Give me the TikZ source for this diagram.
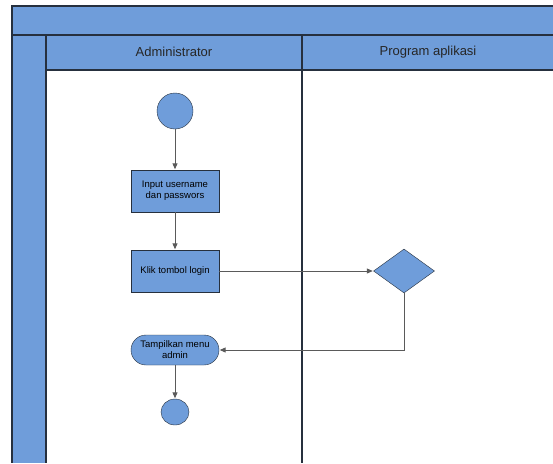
\documentclass[tikz,border=0pt]{standalone}
\usepackage{fontspec}
\setmainfont{Liberation Sans}
\usetikzlibrary{shapes.geometric, arrows.meta}

\definecolor{lanefill}{RGB}{111,157,218}
\definecolor{laneline}{RGB}{38,48,62}
\definecolor{flowline}{RGB}{90,90,90}

\tikzset{
    lanetitle/.style={font=\fontsize{13}{15}\selectfont, text=black!85},
    actbox/.style={draw=laneline, fill=lanefill, minimum width=88pt, minimum height=42pt,
        inner sep=1pt, align=center, font=\fontsize{9.5}{11}\selectfont},
    actround/.style={actbox, rounded corners=15pt, minimum height=30pt},
    startdot/.style={circle, draw=laneline, fill=lanefill, minimum size=36pt, inner sep=0pt},
    enddot/.style={ellipse, draw=laneline, fill=lanefill, minimum width=28pt, minimum height=26pt, inner sep=0pt},
    choice/.style={diamond, draw=laneline, fill=lanefill, minimum width=61pt, minimum height=44pt,
        aspect=1.4, inner sep=0pt},
    flow/.style={draw=flowline, line width=1pt, -{Triangle[length=6pt, width=5pt]}, shorten >=0.5pt}
}

\begin{document}
\begin{tikzpicture}[x=1pt, y=-1pt]
    \useasboundingbox
        [fill=white] (0,0) rectangle (553,463);
    % swimlane frame
    \fill
        [lanefill] (12,6) rectangle (553,70);
    \fill
        [lanefill] (12,35) rectangle (46,463);
    \fill
        [white] (46,70) rectangle (553,463);
    \draw
        [laneline, line width=1.3pt] (553,6)--(12,6)--(12,463);
    \draw
        [laneline, line width=1.3pt] (12,35)--(553,35);
    \draw
        [laneline, line width=1.3pt] (46,70)--(553,70);
    \draw
        [laneline, line width=1.3pt] (46,35)--(46,463);
    \draw
        [laneline, line width=1.3pt] (302,35)--(302,463);
    \node[lanetitle] (admin) at (174,52) {Administrator};
    \node[lanetitle] (program) at (428,52) {Program aplikasi};

    % activities
    \node[startdot] (start) at (175,111) {};
    \node[actbox] (input) at (175,191) {Input username\\dan passwors};
    \node[actbox] (login) at (175,271) {Klik tombol login};
    \node[choice] (check) at (404,271) {};
    \node[actround] (menu) at (175,350) {Tampilkan menu\\admin};
    \node[enddot] (stop) at (175,412) {};

    % flows
    \draw[flow] (start) -- (input);
    \draw[flow] (input) -- (login);
    \draw[flow] (login) -- (check);
    \draw[flow] (check.south) |- (menu.east);
    \draw[flow] (menu) -- (stop);
\end{tikzpicture}
\end{document}
